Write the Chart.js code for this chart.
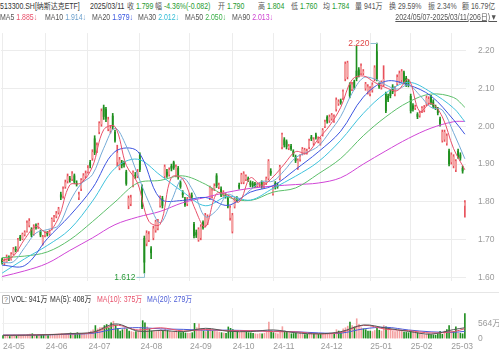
<!DOCTYPE html>
<html><head><meta charset="utf-8">
<script src="https://cdn.jsdelivr.net/npm/chart.js@4.4.1/dist/chart.umd.min.js"></script>
<style>
html,body{margin:0;padding:0;background:#fff;width:499px;height:356px;overflow:hidden;font-family:"Liberation Sans","Noto Sans CJK SC",sans-serif;}
.t{position:absolute;white-space:nowrap;font-size:8.5px;line-height:10px;color:#555;z-index:5;transform:scaleX(.82);transform-origin:0 0;}
.tr{transform-origin:100% 0;}
.g{color:#1e9a2e}
canvas{position:absolute;left:0;}
</style></head><body>
<div class="t" style="left:0px;top:1px;color:#333">513300.SH[纳斯达克ETF]</div>
<div class="t" style="left:90px;top:1px;color:#333">2025/03/11</div>
<div class="t" style="left:127px;top:1px">收 <span class="g">1.799</span></div>
<div class="t" style="left:155px;top:1px">幅 <span class="g">-4.36%(-0.082)</span></div>
<div class="t" style="left:218px;top:1px">开 <span class="g">1.790</span></div>
<div class="t" style="left:258px;top:1px">高 <span class="g">1.804</span></div>
<div class="t" style="left:291px;top:1px">低 <span class="g">1.760</span></div>
<div class="t" style="left:323px;top:1px">均 <span class="g">1.784</span></div>
<div class="t" style="left:355px;top:1px">量 941万</div>
<div class="t" style="left:389px;top:1px">换 29.59%</div>
<div class="t" style="left:428px;top:1px">振 2.34%</div>
<div class="t" style="left:462px;top:1px">额 16.79亿</div>

<div class="t" style="left:0px;top:12px">MA5 <span style="color:#e8506a">1.885↓</span></div>
<div class="t" style="left:45px;top:12px">MA10 <span style="color:#6a9fcc">1.914↓</span></div>
<div class="t" style="left:92px;top:12px">MA20 <span style="color:#3553e0">1.979↓</span></div>
<div class="t" style="left:138px;top:12px">MA30 <span style="color:#33bcd6">2.012↓</span></div>
<div class="t" style="left:185px;top:12px">MA50 <span style="color:#3cb04a">2.050↓</span></div>
<div class="t" style="left:232px;top:12px">MA90 <span style="color:#cc3fd0">2.013↓</span></div>
<div class="t tr" style="right:2px;top:12px;color:#555;text-decoration:underline">2024/05/07-2025/03/11(206日)▼</div>

<div style="position:absolute;left:0;top:292px;width:499px;height:1px;background:#e6e6e6"></div>
<div style="position:absolute;left:2px;top:295px;width:6px;height:7px;border:1px solid #aaa;border-radius:1px;font-size:7px;line-height:7px;text-align:center;color:#777;font-family:'Liberation Sans'">?</div>
<div class="t" style="left:11px;top:294px;color:#333">VOL: 941万</div>
<div class="t" style="left:50px;top:294px;color:#333">MA(5): 408万</div>
<div class="t" style="left:97px;top:294px;color:#e8506a">MA(10): 375万</div>
<div class="t" style="left:147px;top:294px;color:#4b5bd6">MA(20): 279万</div>

<canvas id="pc" width="499" height="282" style="top:16px"></canvas>
<canvas id="vc" width="499" height="65" style="top:291px"></canvas>
<script>
// ---- tick labels / axes ----
const monthLabels = ['24-05','24-06','24-07','24-08','24-09','24-10','24-11','24-12','25-01','25-02','25-03'];
const monthStart  = [0,19,38,61,83,102,120,141,163,181,199];
const priceTicks  = [1.6,1.7,1.8,1.9,2.0,2.1,2.2];
const volTicks    = [0,564];

// ---- daily candles (206 trading days, 2024/05/07 - 2025/03/11) ----
const opens = [
 1.648,1.638,1.642,1.655,1.648,1.662,1.676,1.672,1.708,1.702,1.714,1.722,1.738,1.728,1.715,1.738,1.733,1.722,1.690,
 1.712,1.718,1.716,1.728,1.752,1.762,1.772,1.820,1.815,1.840,1.855,1.862,1.860,1.870,1.850,1.812,1.835,1.858,1.868,
 1.880,1.905,1.915,1.968,1.935,1.985,2.005,2.050,2.045,1.992,1.988,2.028,1.985,1.905,1.890,1.906,1.903,1.880,1.790,1.795,1.845,1.872,1.868,
 1.925,1.840,1.705,1.690,1.700,1.677,1.705,1.725,1.730,1.790,1.810,1.868,1.880,1.872,1.895,1.905,1.870,1.890,1.852,1.825,1.808,1.795,
 1.815,1.818,1.742,1.720,1.700,1.705,1.747,1.738,1.745,1.810,1.815,1.835,1.870,1.840,1.835,1.820,1.818,1.810,1.758,
 1.722,1.788,1.808,1.845,1.852,1.852,1.860,1.862,1.852,1.850,1.848,1.842,1.845,1.852,1.842,1.850,1.862,1.882,
 1.822,1.850,1.845,1.862,1.945,1.965,1.960,1.942,1.948,1.935,1.920,1.890,1.912,1.928,1.930,1.930,1.945,1.972,1.955,1.978,1.960,
 1.955,1.978,2.000,2.025,2.015,2.020,2.015,2.045,2.060,2.068,2.075,2.125,2.130,2.110,2.098,2.118,2.147,2.150,2.140,2.140,2.100,2.090,
 2.085,2.095,2.125,2.198,2.110,2.102,2.110,2.085,2.080,2.090,2.105,2.085,2.112,2.118,2.122,2.142,2.128,2.120,
 2.080,2.055,2.048,2.032,2.028,2.040,2.042,2.058,2.062,2.078,2.065,2.052,2.045,2.020,1.962,1.965,1.955,1.935,
 1.905,1.895,1.885,1.935,1.925,1.890,1.790];
const highs = [
 1.652,1.650,1.660,1.658,1.666,1.680,1.682,1.704,1.712,1.718,1.724,1.750,1.756,1.732,1.740,1.742,1.744,1.726,1.712,
 1.722,1.722,1.726,1.758,1.765,1.775,1.786,1.826,1.840,1.858,1.874,1.868,1.880,1.874,1.856,1.826,1.862,1.875,1.882,
 1.896,1.910,1.938,1.975,1.956,2.012,2.046,2.056,2.050,2.024,2.002,2.034,1.990,1.950,1.918,1.910,1.908,1.884,1.816,1.818,1.882,1.878,1.886,
 1.930,1.845,1.710,1.724,1.722,1.682,1.736,1.752,1.754,1.816,1.815,1.898,1.886,1.890,1.900,1.908,1.898,1.894,1.856,1.830,1.812,1.812,
 1.822,1.824,1.746,1.726,1.732,1.740,1.750,1.770,1.766,1.842,1.836,1.848,1.875,1.850,1.840,1.830,1.822,1.814,1.790,
 1.770,1.812,1.814,1.850,1.876,1.880,1.872,1.866,1.856,1.854,1.852,1.850,1.852,1.856,1.852,1.866,1.912,1.888,
 1.840,1.854,1.850,1.897,1.982,1.970,1.964,1.952,1.952,1.938,1.924,1.914,1.925,1.944,1.942,1.940,1.966,1.976,1.970,1.982,1.972,
 1.970,1.994,2.016,2.028,2.030,2.034,2.030,2.075,2.070,2.072,2.096,2.170,2.172,2.115,2.116,2.122,2.212,2.155,2.165,2.150,2.116,2.110,
 2.105,2.115,2.160,2.220,2.115,2.120,2.160,2.090,2.085,2.095,2.110,2.105,2.136,2.146,2.150,2.146,2.132,2.124,
 2.085,2.060,2.056,2.036,2.040,2.052,2.055,2.080,2.078,2.082,2.070,2.056,2.050,2.024,1.990,1.990,1.980,1.940,
 1.930,1.925,1.912,1.940,1.930,1.895,1.804];
const lows = [
 1.636,1.634,1.640,1.645,1.646,1.660,1.668,1.670,1.698,1.700,1.710,1.720,1.734,1.708,1.712,1.728,1.730,1.708,1.686,
 1.708,1.710,1.712,1.726,1.748,1.758,1.768,1.806,1.810,1.836,1.850,1.852,1.856,1.848,1.842,1.806,1.830,1.854,1.864,
 1.876,1.890,1.910,1.925,1.930,1.980,2.000,2.018,2.012,1.988,1.982,1.992,1.958,1.895,1.885,1.890,1.892,1.844,1.782,1.790,1.840,1.862,1.864,
 1.880,1.782,1.612,1.684,1.695,1.650,1.700,1.720,1.726,1.786,1.784,1.864,1.865,1.868,1.882,1.886,1.866,1.860,1.836,1.812,1.788,1.790,
 1.810,1.808,1.705,1.706,1.696,1.700,1.728,1.734,1.740,1.806,1.810,1.830,1.838,1.835,1.814,1.815,1.810,1.784,1.752,
 1.718,1.784,1.800,1.834,1.848,1.848,1.856,1.854,1.840,1.838,1.838,1.838,1.840,1.836,1.838,1.846,1.858,1.870,
 1.818,1.834,1.836,1.858,1.940,1.945,1.940,1.938,1.936,1.920,1.904,1.886,1.908,1.924,1.926,1.926,1.940,1.962,1.950,1.966,1.956,
 1.950,1.974,1.996,2.008,2.010,2.016,2.010,2.040,2.055,2.058,2.070,2.120,2.125,2.075,2.094,2.098,2.120,2.130,2.136,2.136,2.095,2.085,
 2.080,2.090,2.120,2.120,2.100,2.098,2.106,2.036,2.065,2.075,2.086,2.080,2.108,2.114,2.118,2.112,2.105,2.104,
 2.035,2.040,2.044,2.020,2.024,2.036,2.038,2.054,2.058,2.058,2.048,2.044,2.030,2.000,1.958,1.960,1.950,1.895,
 1.900,1.890,1.880,1.915,1.910,1.876,1.760];
const closes = [
 1.640,1.645,1.655,1.650,1.662,1.675,1.672,1.700,1.703,1.715,1.720,1.745,1.750,1.712,1.735,1.732,1.740,1.712,1.708,
 1.718,1.715,1.722,1.755,1.760,1.770,1.782,1.812,1.835,1.852,1.868,1.858,1.875,1.852,1.846,1.820,1.858,1.870,1.876,
 1.890,1.896,1.932,1.930,1.950,2.008,2.040,2.025,2.020,2.018,1.995,1.998,1.962,1.930,1.912,1.896,1.898,1.848,1.810,1.812,1.878,1.868,1.880,
 1.885,1.786,1.640,1.718,1.715,1.665,1.730,1.748,1.748,1.812,1.790,1.893,1.870,1.885,1.888,1.890,1.893,1.865,1.840,1.818,1.792,1.808,
 1.818,1.812,1.710,1.712,1.728,1.735,1.732,1.765,1.760,1.838,1.830,1.842,1.842,1.845,1.818,1.826,1.815,1.788,1.785,
 1.765,1.808,1.805,1.838,1.872,1.875,1.868,1.858,1.845,1.842,1.843,1.846,1.848,1.840,1.848,1.862,1.908,1.875,
 1.836,1.838,1.840,1.893,1.978,1.950,1.945,1.948,1.940,1.925,1.908,1.910,1.920,1.940,1.938,1.935,1.962,1.966,1.965,1.970,1.968,
 1.966,1.990,2.012,2.013,2.025,2.030,2.025,2.070,2.065,2.062,2.092,2.165,2.168,2.080,2.110,2.102,2.125,2.135,2.160,2.145,2.112,2.105,
 2.100,2.110,2.155,2.125,2.105,2.115,2.125,2.040,2.070,2.080,2.090,2.100,2.130,2.140,2.145,2.118,2.110,2.108,
 2.040,2.045,2.052,2.025,2.035,2.048,2.050,2.075,2.072,2.062,2.052,2.048,2.035,2.005,1.985,1.985,1.975,1.900,
 1.925,1.920,1.908,1.920,1.915,1.881,1.799];
// volume, 万
const volumes = [
 130,110,150,100,120,160,120,150,130,140,150,170,190,200,150,140,160,150,180,
 140,130,150,180,160,170,190,200,170,180,200,230,210,220,240,200,190,180,170,
 260,300,340,500,380,430,440,500,540,420,600,660,520,400,300,350,420,380,300,280,260,280,300,
 420,680,600,450,380,300,320,280,300,350,300,380,320,300,260,280,300,260,240,260,230,220,
 220,240,580,420,560,380,300,280,320,380,300,300,280,260,240,230,220,450,400,
 350,330,300,280,320,300,260,240,230,220,200,190,210,200,220,250,630,300,
 240,220,200,280,460,300,250,220,200,210,230,190,200,180,170,180,200,190,180,170,190,
 180,200,220,210,230,220,200,350,300,260,380,420,480,630,500,450,750,550,420,380,350,300,
 300,280,320,400,330,300,500,450,400,350,300,280,300,320,300,260,250,240,
 300,280,250,240,230,170,160,180,190,170,160,150,180,290,180,300,350,500,
 280,280,450,230,220,199,941];

const idx5  = [0,5,10,15,20,25,30,35,40,45,50,55,60,65,70,75,80,85,90,95,100,105,110,115,120,125,130,135,140,145,150,155,160,165,170,175,180,185,190,195,200,205];
const idx10 = [0,10,20,30,40,50,60,70,80,90,100,110,120,130,140,150,160,170,180,190,200,205];
const ma5  = [1.645,1.657,1.702,1.735,1.719,1.758,1.845,1.850,1.893,1.991,1.999,1.897,1.850,1.749,1.741,1.865,1.861,1.788,1.734,1.822,1.818,1.800,1.864,1.844,1.866,1.900,1.933,1.929,1.966,2.001,2.050,2.123,2.133,2.116,2.102,2.094,2.124,2.039,2.061,2.025,1.941,1.885];
const ma10 = [1.640,1.642,1.680,1.718,1.727,1.738,1.801,1.848,1.872,1.942,1.995,1.948,1.873,1.799,1.745,1.803,1.863,1.825,1.761,1.778,1.820,1.809,1.832,1.854,1.855,1.883,1.917,1.931,1.947,1.984,2.026,2.087,2.128,2.125,2.109,2.098,2.109,2.082,2.050,2.043,1.983,1.914];
const ma20 = [1.633,1.632,1.703,1.764,1.836,1.933,1.934,1.809,1.804,1.812,1.791,1.826,1.843,1.886,1.932,1.987,2.077,2.119,2.109,2.080,2.017,1.979];
const ma30 = [1.612,1.650,1.685,1.728,1.802,1.889,1.913,1.871,1.827,1.790,1.815,1.805,1.836,1.868,1.906,1.963,2.034,2.088,2.116,2.090,2.048,2.012];
const ma50 = [1.653,1.657,1.668,1.700,1.748,1.800,1.850,1.857,1.869,1.847,1.813,1.804,1.826,1.837,1.874,1.915,1.975,2.025,2.064,2.085,2.076,2.050];
const ma90 = [1.603,1.618,1.638,1.672,1.705,1.740,1.760,1.775,1.798,1.812,1.826,1.836,1.842,1.846,1.850,1.864,1.900,1.935,1.968,1.995,2.012,2.013];
const vma5  = [130,138,152,196,250,548,284,310,268,388,280,270,328,222,186,266,510,396,274,174,342,408];
const vma10 = [135,140,161,183,231,499,327,408,290,343,298,301,266,257,185,237,496,353,300,217,267,375];
const vma20 = [140,140,150,172,207,365,413,368,349,317,321,300,284,262,221,211,367,425,327,259,242,279];

// ---- styling ----
const RED='#e8505a', PINK='#f4a0a0', GREEN='#1f8f1f';
const FONT='"Liberation Sans Narrow","Liberation Sans","Noto Sans CJK SC",sans-serif';
const pts=(ix,v)=>ix.map((x,k)=>({x:x,y:v[k]}));
const lineDs=(d,c,o)=>({type:'line',data:d,borderColor:c,borderWidth:1,pointRadius:0,tension:0.35,fill:false,order:o});

const isUp = opens.map((o,i)=>closes[i]>=o);
const volUp = closes.map((c,i)=> i===0 ? c>=opens[0] : c>=closes[i-1]);
const XMIN=-0.5, XMAX=closes.length-0.5;

const hiVal=Math.max(...highs), hiIdx=highs.indexOf(hiVal);
const loVal=Math.min(...lows), loIdx=lows.indexOf(loVal);

const annot={id:'annot',afterDatasetsDraw(chart){
  const {ctx,scales:{x,y},chartArea}=chart;
  ctx.save();
  ctx.font='8.5px '+FONT; ctx.textBaseline='middle'; ctx.textAlign='right';
  ctx.lineWidth=1;
  let hx=Math.round(x.getPixelForValue(hiIdx))+0.5, hy=Math.round(y.getPixelForValue(hiVal))+0.5;
  ctx.strokeStyle='#8fbfcf'; ctx.beginPath(); ctx.moveTo(hx-7,hy); ctx.lineTo(hx,hy); ctx.stroke();
  ctx.fillStyle='#e04848'; ctx.fillText(hiVal.toFixed(3),hx-8,hy);
  let lx=Math.round(x.getPixelForValue(loIdx))+0.5, ly=y.getPixelForValue(loVal);
  let ty=Math.min(ly+4, chartArea.bottom-4)+0.5;
  ctx.strokeStyle='#8fbfcf'; ctx.beginPath(); ctx.moveTo(lx-8,ty); ctx.lineTo(lx,ty); ctx.lineTo(lx,ly); ctx.stroke();
  ctx.fillStyle='#2a9a3a'; ctx.fillText(loVal.toFixed(3),lx-9,ty);
  ctx.restore();
}};

const xGrid={color:'#ececec',drawTicks:false,offset:false,lineWidth:1};

new Chart(document.getElementById('pc'),{
  type:'bar',
  data:{datasets:[
    lineDs(pts(idx5,ma5),'#e8506a',0),
    lineDs(pts(idx5,ma10),'#74aad6',0),
    lineDs(pts(idx10,ma20),'#3d55e0',0),
    lineDs(pts(idx10,ma30),'#3fc2dc',0),
    lineDs(pts(idx10,ma50),'#5cbf6a',0),
    lineDs(pts(idx10,ma90),'#d046d6',0),
    {label:'body',data:opens.map((o,i)=>({x:i,y:[o,closes[i]]})),
     backgroundColor:isUp.map(u=>u?PINK:GREEN),borderWidth:0,
     grouped:false,categoryPercentage:1,barPercentage:0.8,minBarLength:1,order:5},
    {label:'wick',data:lows.map((l,i)=>({x:i,y:[l,highs[i]]})),
     backgroundColor:isUp.map(u=>u?RED:GREEN),grouped:false,barThickness:1,order:6}
  ]},
  options:{
    responsive:false,animation:false,events:[],
    layout:{padding:{left:1,right:0,top:6,bottom:6}},
    plugins:{legend:{display:false},tooltip:{enabled:false}},
    scales:{
      x:{type:'linear',min:XMIN,max:XMAX,offset:false,
         afterBuildTicks:s=>{s.ticks=monthStart.map(v=>({value:v}));},
         ticks:{display:false},grid:xGrid,border:{display:false},
         afterFit:s=>{s.height=0;}},
      y:{position:'right',min:1.5915,max:2.2461,
         afterBuildTicks:s=>{s.ticks=priceTicks.map(v=>({value:v}));},
         ticks:{padding:12,color:'#9a9a9a',font:{size:8.5,family:FONT},callback:v=>Number(v).toFixed(2)},
         grid:{color:'#ececec',drawTicks:false},border:{display:false},
         afterFit:s=>{s.width=33;}}
    }
  },
  plugins:[annot]
});

new Chart(document.getElementById('vc'),{
  type:'bar',
  data:{datasets:[
    lineDs(pts(idx10,vma5),'#555555',0),
    lineDs(pts(idx10,vma10),'#e8506a',0),
    lineDs(pts(idx10,vma20),'#4b5bd6',0),
    {label:'vol',data:volumes.map((v,i)=>({x:i,y:v})),
     backgroundColor:volUp.map(u=>u?PINK:GREEN),categoryPercentage:1,barPercentage:0.72,order:5}
  ]},
  options:{
    responsive:false,animation:false,events:[],
    layout:{padding:{left:1,right:0,top:6,bottom:0}},
    plugins:{legend:{display:false},tooltip:{enabled:false}},
    scales:{
      x:{type:'linear',min:XMIN,max:XMAX,offset:false,
         afterBuildTicks:s=>{s.ticks=monthStart.map(v=>({value:v}));},
         ticks:{autoSkip:false,maxRotation:0,align:'start',padding:3,color:'#9a9a9a',font:{size:8.5,family:FONT},
                callback:(v,i)=>monthLabels[i]},
         grid:xGrid,border:{display:false},
         afterFit:s=>{s.height=12;}},
      y:{position:'right',min:0,max:1128,
         afterBuildTicks:s=>{s.ticks=volTicks.map(v=>({value:v}));},
         ticks:{padding:12,color:'#9a9a9a',font:{size:8.5,family:FONT},callback:v=>v===0?'0':v+'万'},
         grid:{color:c=>c.tick&&c.tick.value===564?'#f0f0f0':'rgba(0,0,0,0)',drawTicks:false},border:{display:false},
         afterFit:s=>{s.width=33;}}
    }
  }
});
</script>
</body></html>
